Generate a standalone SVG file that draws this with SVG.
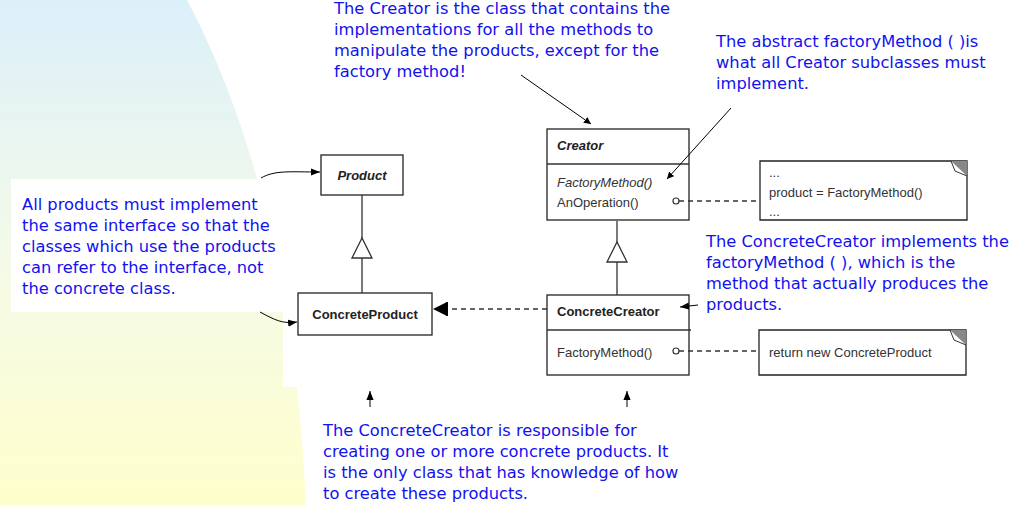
<svg xmlns="http://www.w3.org/2000/svg" width="1013" height="506" viewBox="0 0 1013 506">
<defs>
<linearGradient id="bg" x1="0" y1="0" x2="0" y2="1">
<stop offset="0" stop-color="#dcf0fa"/>
<stop offset="0.55" stop-color="#f6fbe6"/>
<stop offset="1" stop-color="#ffffcc"/>
</linearGradient>
<marker id="ah" viewBox="0 0 10 10" refX="10" refY="5" markerWidth="7" markerHeight="7" orient="auto" markerUnits="userSpaceOnUse">
<path d="M0,0 L10,5 L0,10 Z" fill="#000"/>
</marker>
<marker id="ahs" viewBox="0 0 10 10" refX="10" refY="5" markerWidth="9" markerHeight="9" orient="auto" markerUnits="userSpaceOnUse">
<path d="M0,1 L10,5 L0,9 Z" fill="#000"/>
</marker>
</defs>
<style>
.note{font-family:"DejaVu Sans",sans-serif;font-size:16.3px;fill:#1212ee}
.uml{font-family:"Liberation Sans",Arial,sans-serif;font-size:13px;fill:#333}
.b{font-weight:bold;fill:#222}
.i{font-style:italic}
.box{fill:#fff;stroke:#222;stroke-width:1.3}
.ln{fill:none;stroke:#333;stroke-width:1.3}
.dash{fill:none;stroke:#333;stroke-width:1.3;stroke-dasharray:5,4}
.ann{fill:none;stroke:#000;stroke-width:1}
</style>
<rect width="1013" height="506" fill="#fff"/>
<path d="M0,0 L187,0 C240,100 295,260 306,506 L0,506 Z" fill="url(#bg)"/>
<rect x="283" y="120" width="730" height="267" fill="#fff"/>
<rect x="11" y="179" width="272" height="133" fill="#fff"/>

<g id="product">
<rect class="box" x="321" y="155" width="82" height="40"/>
<text class="uml b i" x="362" y="180" text-anchor="middle">Product</text>
</g>
<g id="concreteproduct">
<rect class="box" x="298" y="293" width="134" height="42"/>
<text class="uml b" x="365" y="319" text-anchor="middle">ConcreteProduct</text>
</g>
<g id="creator">
<rect class="box" x="547" y="129" width="142" height="91"/>
<path class="ln" d="M547,164 H689"/>
<text class="uml b i" x="557" y="150">Creator</text>
<text class="uml i" x="557" y="187">FactoryMethod()</text>
<text class="uml" x="557" y="207">AnOperation()</text>
</g>
<g id="concretecreator">
<rect class="box" x="547" y="295" width="142" height="80"/>
<path class="ln" d="M547,330 H691"/>
<text class="uml b" x="557" y="316">ConcreteCreator</text>
<text class="uml" x="557" y="357">FactoryMethod()</text>
</g>
<g id="note1">
<path class="box" d="M760,161 H967 V220 H760 Z"/>
<path d="M951,161 L967,161 L967,176 Z" fill="#888"/>
<path d="M951,161 L955,171 L967,176" fill="none" stroke="#333" stroke-width="1"/>
<text class="uml" x="769" y="177" font-size="10">...</text>
<text class="uml" x="769" y="197">product = FactoryMethod()</text>
<text class="uml" x="769" y="216" font-size="10">...</text>
</g>
<g id="note2">
<path class="box" d="M759,330 H966 V375 H759 Z"/>
<path d="M950,330 L966,330 L966,345 Z" fill="#888"/>
<path d="M950,330 L954,340 L966,345" fill="none" stroke="#333" stroke-width="1"/>
<text class="uml" x="769" y="357">return new ConcreteProduct</text>
</g>

<g id="connectors">
<path class="ln" d="M362,195 V238 M362,258 V293"/>
<path d="M352,258 L362,238 L372,258 Z" fill="#fff" stroke="#333" stroke-width="1.3"/>
<path class="ln" d="M617,221 V242 M617,262 V295"/>
<path d="M607,262 L617,242 L627,262 Z" fill="#fff" stroke="#333" stroke-width="1.3"/>
<path class="dash" d="M547,309 H447"/>
<path d="M447,302 L433,309 L447,316 Z" fill="#000"/>
<path d="M447,302 V316" stroke="#000" stroke-width="2"/>
<circle cx="676" cy="201" r="3" fill="#fff" stroke="#333" stroke-width="1.2"/>
<path class="dash" d="M679,201 H760"/>
<circle cx="676" cy="351" r="3" fill="#fff" stroke="#333" stroke-width="1.2"/>
<path class="dash" d="M679,351 H759"/>
<path class="ann" d="M521,75 L591,124" marker-end="url(#ah)"/>
<path class="ann" d="M731,108 L667,179" marker-end="url(#ah)"/>
<path class="ann" d="M261,178 C275,170 290,172 320,172" marker-end="url(#ahs)"/>
<path class="ann" d="M260,312 C275,320 282,324 297,322" marker-end="url(#ahs)"/>
<path class="ann" d="M698,305 L680,307" marker-end="url(#ahs)"/>
<path class="ann" d="M370,407 V391" marker-end="url(#ahs)"/>
<path class="ann" d="M627,407 V391" marker-end="url(#ahs)"/>
</g>

<g id="text-creator">
<text class="note" x="334" y="14">The Creator is the class that contains the</text>
<text class="note" x="334" y="35">implementations for all the methods to</text>
<text class="note" x="334" y="56">manipulate the products, except for the</text>
<text class="note" x="334" y="77">factory method!</text>
</g>
<g id="text-abstract">
<text class="note" x="716" y="47">The abstract factoryMethod ( )is</text>
<text class="note" x="716" y="68">what all Creator subclasses must</text>
<text class="note" x="716" y="89">implement.</text>
</g>
<g id="text-products">
<text class="note" x="22" y="210">All products must implement</text>
<text class="note" x="22" y="231">the same interface so that the</text>
<text class="note" x="22" y="252">classes which use the products</text>
<text class="note" x="22" y="273">can refer to the interface, not</text>
<text class="note" x="22" y="294">the concrete class.</text>
</g>
<g id="text-cc-impl">
<text class="note" x="706" y="247">The ConcreteCreator implements the</text>
<text class="note" x="706" y="268">factoryMethod ( ), which is the</text>
<text class="note" x="706" y="289">method that actually produces the</text>
<text class="note" x="706" y="310">products.</text>
</g>
<g id="text-cc-resp">
<text class="note" x="323" y="436">The ConcreteCreator is responsible for</text>
<text class="note" x="323" y="457">creating one or more concrete products. It</text>
<text class="note" x="323" y="478">is the only class that has knowledge of how</text>
<text class="note" x="323" y="499">to create these products.</text>
</g>
</svg>
